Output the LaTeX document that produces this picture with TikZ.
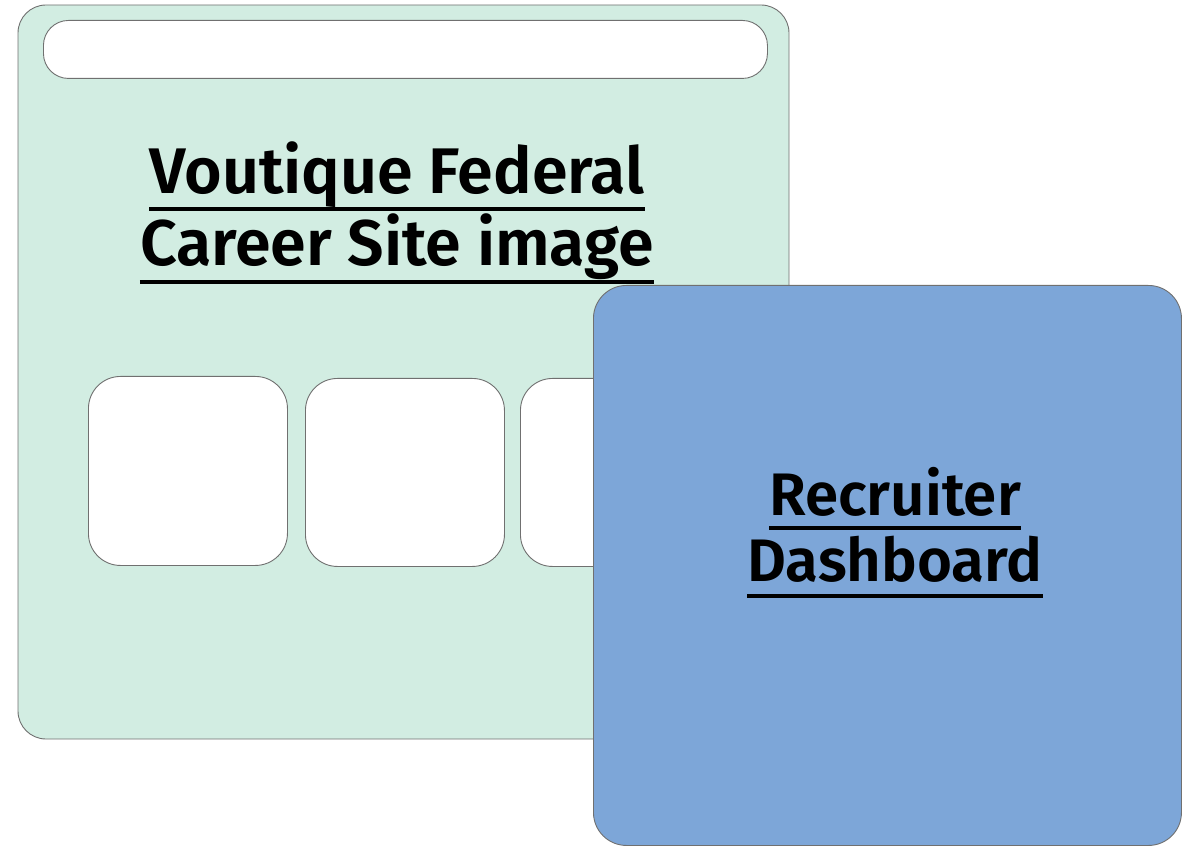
\documentclass[tikz,border=0pt]{standalone}
\usepackage{fontspec}
\newfontfamily\tfont{Fira Sans SemiBold}
\definecolor{mint}{HTML}{D2EDE2}
\definecolor{sky}{HTML}{7DA6D8}
\definecolor{edge}{HTML}{707070}
\tikzset{
  panel/.style={draw=edge, line width=0.9pt},
  title/.style={inner sep=0pt, anchor=base, font=\fontsize{64.5}{66}\tfont},
  dtitle/.style={inner sep=0pt, anchor=base, font=\fontsize{60}{62}\tfont},
  uline/.style={line width=3.2pt, black}
}
\begin{document}
\begin{tikzpicture}[x=1pt,y=-1pt]
\useasboundingbox (0,0) rectangle (1200,850);
% green site panel
\draw[panel, fill=mint, rounded corners=28] (18,5) rectangle (789,739);
\node[panel, fill=white, rounded corners=25, minimum width=724, minimum height=58, inner sep=0, anchor=north west] (bar) at (43,20) {};
\node[panel, fill=white, rounded corners=32, minimum width=199, minimum height=189, inner sep=0, anchor=north west] (c1) at (88,376) {};
\node[panel, fill=white, rounded corners=32, minimum width=199, minimum height=188, inner sep=0, anchor=north west] (c2) at (305,378) {};
\node[panel, fill=white, rounded corners=32, minimum width=199, minimum height=188, inner sep=0, anchor=north west] (c3) at (520,378) {};
\node[title] (t1) at (397,194) {Voutique Federal};
\node[title] (t2) at (397,266) {Career Site image};
\draw[uline] (t1.west |- 0,209) -- (t1.east |- 0,209);
\draw[uline] (t2.west |- 0,282) -- (t2.east |- 0,282);
% blue dashboard panel
\node[panel, fill=sky, rounded corners=33, minimum width=588, minimum height=560, inner sep=0, anchor=north west] (dash) at (593,285) {};
\node[dtitle] (r1) at (895,515) {Recruiter};
\node[dtitle] (r2) at (895,581) {Dashboard};
\draw[uline] (r1.west |- 0,528) -- (r1.east |- 0,528);
\draw[uline] (r2.west |- 0,596) -- (r2.east |- 0,596);
\end{tikzpicture}
\end{document}
